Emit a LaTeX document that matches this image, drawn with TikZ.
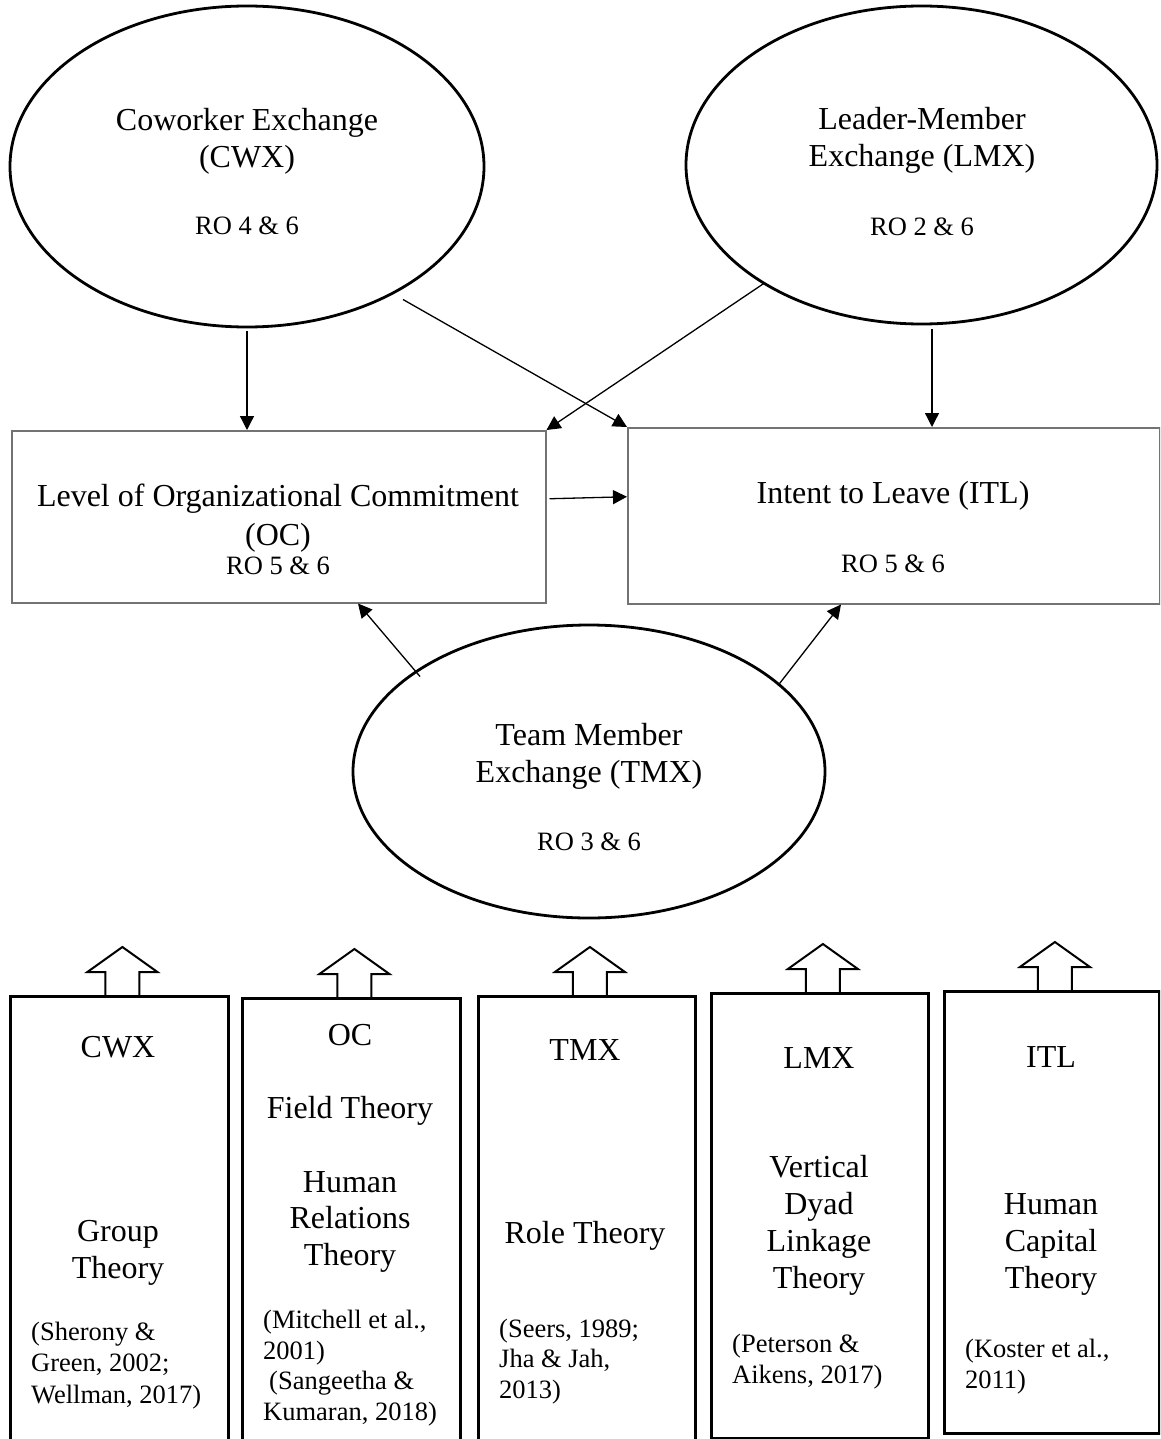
\documentclass[tikz,border=0pt]{standalone}
\usepackage{fontspec}
\setmainfont{Liberation Serif}
\usetikzlibrary{shapes.geometric,arrows.meta,calc}
\begin{document}
\begin{tikzpicture}[x=1pt,y=-1pt,
  oval/.style={ellipse,draw,line width=2.8pt,inner sep=0pt},
  obox/.style={rectangle,draw=black!55,line width=1.5pt,inner sep=0pt,anchor=north west},
  tbox/.style={rectangle,draw,line width=2.8pt,inner sep=0pt,anchor=north west},
  conn/.style={line width=1.3pt,-{Triangle[length=14pt,width=14pt]}},
  barrow/.style={draw,line width=2pt,line join=miter},
  bigt/.style={font=\fontsize{32}{37}\selectfont,align=center,inner sep=0pt,anchor=base},
  smallt/.style={font=\fontsize{26.5}{31}\selectfont,align=center,inner sep=0pt,anchor=base},
  citet/.style={font=\fontsize{26.5}{30.5}\selectfont,align=left,inner sep=0pt,anchor=base west}]
\useasboundingbox (0,0) rectangle (1160,1439);
\clip (0,0) rectangle (1160,1439);

% ellipses (multi-line text nodes are placed by the baseline of their last line)
\node[oval,minimum width=474pt,minimum height=321pt] (cwx) at (247,166.5) {};
\node[oval,minimum width=471pt,minimum height=318pt] (lmx) at (921.5,165) {};
\node[oval,minimum width=472pt,minimum height=293pt] (tmx) at (589,771.5) {};
\node[bigt] (cwxT) at (247,168) {Coworker Exchange\\(CWX)};
\node[smallt] (cwxR) at (247,235) {RO 4 \& 6};
\node[bigt] (lmxT) at (922,167) {Leader-Member\\Exchange (LMX)};
\node[smallt] (lmxR) at (922,236) {RO 2 \& 6};
\node[bigt] (tmxT) at (589,782) {Team Member\\Exchange (TMX)};
\node[smallt] (tmxR) at (589,850) {RO 3 \& 6};

% middle boxes
\node[obox,minimum width=534pt,minimum height=172pt] (oc) at (11,430) {};
\node[obox,minimum width=532pt,minimum height=176pt] (itl) at (627,427) {};
\node[bigt,font=\fontsize{32}{39}\selectfont] (ocT) at (278,545) {Level of Organizational Commitment\\(OC)};
\node[smallt] (ocR) at (278,574) {RO 5 \& 6};
\node[bigt] (itlT) at (893,503) {Intent to Leave (ITL)};
\node[smallt] (itlR) at (893,572) {RO 5 \& 6};

% connectors
\coordinate (lmxS) at ($(lmx.south)+(10.5,4)$);
\draw[conn] ($(cwx.south)+(0,3)$) -- (cwx.south |- oc.north);
\draw[conn] (lmxS) -- (lmxS |- itl.north);
\draw[conn] ($(cwx.center)+(156,133)$) -- (itl.north west);
\draw[conn] ($(lmx.center)+(-157,118)$) -- (oc.north east);
\draw[conn] ($(oc.east)+(3,-18)$) -- ($(itl.west)+(0,-19)$);
\draw[conn] ($(tmx.center)+(-169,-95)$) -- ($(oc.south west)+(347,0)$);
\draw[conn] ($(tmx.center)+(189,-86)$) -- ($(itl.south west)+(214,0)$);

% bottom boxes
\node[tbox,minimum width=218pt,minimum height=460pt] (b1) at (9,995) {};
\node[tbox,minimum width=218pt,minimum height=460pt] (b2) at (241,997) {};
\node[tbox,minimum width=217pt,minimum height=460pt] (b3) at (477,995) {};
\node[tbox,minimum width=217pt,minimum height=445pt] (b4) at (710,992) {};
\node[tbox,minimum width=215pt,minimum height=442pt] (b5) at (943,990) {};
\foreach \b in {b1,b2,b3,b4,b5}
  \draw[barrow] ($(\b.north)+(-14,0)$) -- ++(0,-23) -- ++(-18,0) -- ++(35,-25)
     -- ++(35,25) -- ++(-18,0) -- ++(0,23);

\node[bigt] (b1a) at (118,1057) {CWX};
\node[bigt,font=\fontsize{32}{36.5}\selectfont] (b1b) at (118,1278) {Group\\Theory};
\node[citet,font=\fontsize{26.5}{31.5}\selectfont] (b1c) at (31,1403) {(Sherony \&\\Green, 2002;\\Wellman, 2017)};

\node[bigt] (b2a) at (350,1045) {OC};
\node[bigt] (b2b) at (350,1118) {Field Theory};
\node[bigt,font=\fontsize{32}{36.5}\selectfont] (b2c) at (350,1265) {Human\\Relations\\Theory};
\node[citet] (b2d) at (263,1420) {(Mitchell et al.,\\2001)\\\hspace*{6pt}(Sangeetha \&\\Kumaran, 2018)};

\node[bigt] (b3a) at (585,1060) {TMX};
\node[bigt] (b3b) at (585,1243) {Role Theory};
\node[citet] (b3c) at (499,1398) {(Seers, 1989;\\Jha \& Jah,\\2013)};

\node[bigt] (b4a) at (819,1068) {LMX};
\node[bigt,font=\fontsize{32}{36.7}\selectfont] (b4b) at (819,1288) {Vertical\\Dyad\\Linkage\\Theory};
\node[citet] (b4c) at (732,1383) {(Peterson \&\\Aikens, 2017)};

\node[bigt] (b5a) at (1051,1067) {ITL};
\node[bigt,font=\fontsize{32}{36.7}\selectfont] (b5b) at (1051,1288) {Human\\Capital\\Theory};
\node[citet] (b5c) at (965,1388) {(Koster et al.,\\2011)};
\end{tikzpicture}
\end{document}
